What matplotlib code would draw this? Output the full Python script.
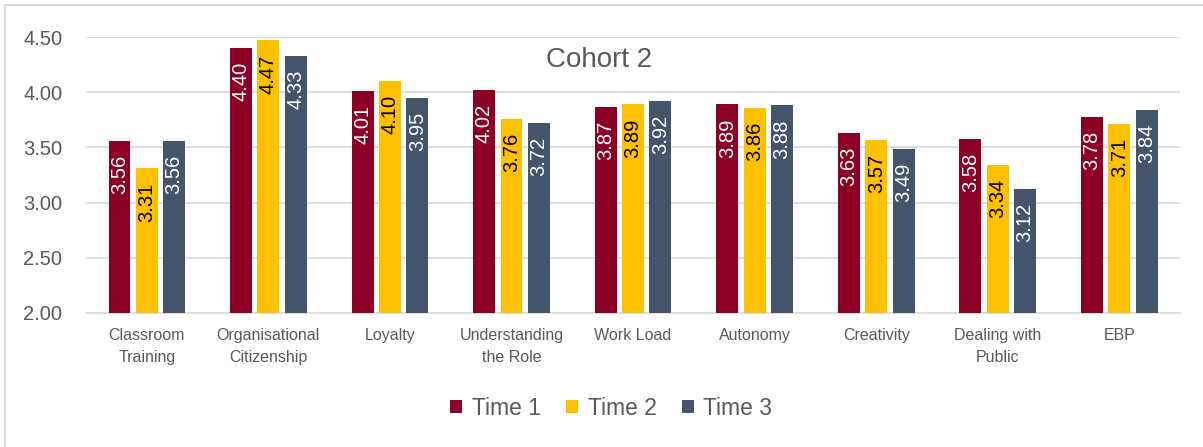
import matplotlib.pyplot as plt
import numpy as np
from matplotlib.patches import Rectangle

categories = ["Classroom\nTraining", "Organisational\nCitizenship", "Loyalty",
              "Understanding\nthe Role", "Work Load", "Autonomy", "Creativity",
              "Dealing with\nPublic", "EBP"]
time1 = [3.56, 4.40, 4.01, 4.02, 3.87, 3.89, 3.63, 3.58, 3.78]
time2 = [3.31, 4.47, 4.10, 3.76, 3.89, 3.86, 3.57, 3.34, 3.71]
time3 = [3.56, 4.33, 3.95, 3.72, 3.92, 3.88, 3.49, 3.12, 3.84]
series_names = ["Time 1", "Time 2", "Time 3"]


def main():
    plt.rcParams['font.family'] = ['Liberation Sans', 'DejaVu Sans']
    fig = plt.figure(figsize=(12.03, 4.47), dpi=100)
    ax = fig.add_axes([0.0715, 0.30, 0.9095, 0.617])

    colors = ["#8B0024", "#FFC000", "#44546A"]
    text_colors = ["white", "black", "white"]
    x = np.arange(len(categories))
    width = 0.18
    step = 0.225
    for i, (vals, name) in enumerate(zip([time1, time2, time3], series_names)):
        pos = x + (i - 1) * step
        ax.bar(pos, np.array(vals) - 2.0, width, bottom=2.0, color=colors[i],
               label=name, zorder=3)
        for p, v in zip(pos, vals):
            ax.annotate(f"{v:.2f}", (p, v), xytext=(0, -10), textcoords="offset points",
                        rotation=90, ha="center", va="top", fontsize=14.5,
                        color=text_colors[i], zorder=4)

    ax.set_ylim(2.0, 4.5)
    ax.set_xlim(-0.5, len(categories) - 0.5)
    ax.set_yticks(np.arange(2.0, 4.51, 0.5))
    ax.set_yticklabels([f"{t:.2f}" for t in np.arange(2.0, 4.51, 0.5)])
    ax.yaxis.grid(True, color="#d9d9d9", linewidth=1.2, zorder=0)
    ax.set_xticks(x)
    ax.set_xticklabels(categories, fontsize=11.5, color="#595959", linespacing=1.55)
    ax.tick_params(axis="y", labelsize=14.5, colors="#595959", length=0, pad=17)
    ax.tick_params(axis="x", length=0, pad=11)
    for s in ["top", "right", "left"]:
        ax.spines[s].set_visible(False)
    ax.spines["bottom"].set_color("#d9d9d9")
    ax.spines["bottom"].set_linewidth(1.2)

    fig.text(0.498, 0.866, "Cohort 2", ha="center", va="center",
             fontsize=20, color="#595959")

    handles, labels = ax.get_legend_handles_labels()
    fig.legend(handles, labels, loc="center", bbox_to_anchor=(0.508, 0.087), ncol=3,
               frameon=False, fontsize=16.5, labelcolor="#595959", handlelength=0.55,
               handleheight=0.55, handletextpad=0.4, columnspacing=1.1)

    fig.patches.append(Rectangle((0.004, -0.05), 1.1, 1.039, transform=fig.transFigure,
                                 fill=False, edgecolor="#d9d9d9", linewidth=1.5))
    fig.savefig("out.png", dpi=100)


if __name__ == "__main__":
    main()
